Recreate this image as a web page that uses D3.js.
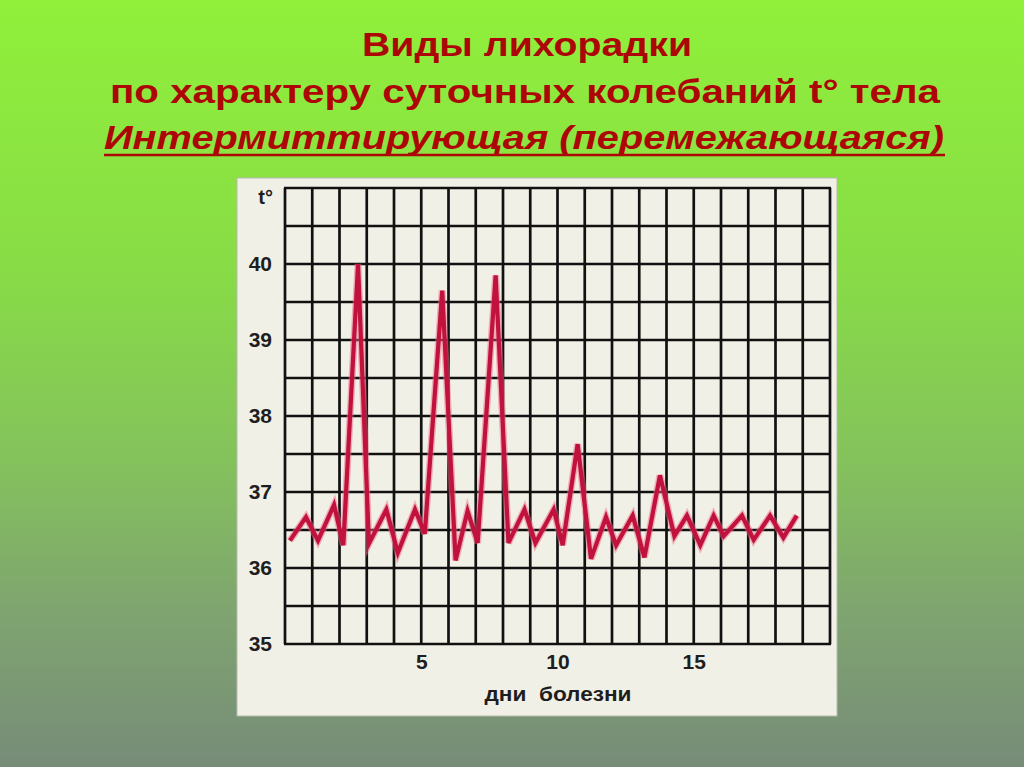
<!DOCTYPE html>
<html>
<head>
<meta charset="utf-8">
<script src="https://cdn.jsdelivr.net/npm/d3@7"></script>
<style>
  html, body { margin: 0; padding: 0; overflow: hidden; }
  svg { display: block; }
</style>
</head>
<body>
<script>
// ---- data ----
const titleLines = ["Виды лихорадки", "по характеру суточных колебаний  t° тела", "Интермиттирующая (перемежающаяся)"];
const yTickValues = [35, 36, 37, 38, 39, 40];
const xTickValues = [5, 10, 15];
const yAxisLabel = "t°";
const xAxisLabel = "дни  болезни";
// day of illness (morning / evening readings)
const days = [0.18, 0.77, 1.21, 1.80, 2.14, 2.68, 3.08, 3.72, 4.14, 4.77,
              5.13, 5.77, 6.26, 6.70, 7.07, 7.73, 8.20, 8.79, 9.19, 9.86,
              10.19, 10.74, 11.23, 11.78, 12.15, 12.76, 13.19, 13.76, 14.29, 14.75,
              15.24, 15.73, 16.10, 16.77, 17.20, 17.80, 18.29, 18.78];
const temps = [36.36, 36.67, 36.36, 36.83, 36.30, 40.00, 36.32, 36.77, 36.20, 36.77,
               36.45, 39.65, 36.10, 36.75, 36.33, 39.85, 36.33, 36.77, 36.33, 36.77,
               36.30, 37.63, 36.12, 36.67, 36.30, 36.69, 36.14, 37.22, 36.42, 36.69,
               36.30, 36.69, 36.42, 36.69, 36.37, 36.69, 36.40, 36.69];
const xDomain = [0, 20];
const yDomain = [35, 41];

// ---- layout ----
const W = 1024, H = 767;
const svg = d3.select("body").append("svg").attr("width", W).attr("height", H);

const defs = svg.append("defs");
const grad = defs.append("linearGradient").attr("id", "bg").attr("x1", 0).attr("y1", 0).attr("x2", 0).attr("y2", 1);
[[0, "#90f03a"], [0.35, "#88dc46"], [0.6, "#84c25c"], [0.8, "#7fa470"], [1, "#778c78"]]
  .forEach(([o, c]) => grad.append("stop").attr("offset", o).attr("stop-color", c));
svg.append("rect").attr("width", W).attr("height", H).attr("fill", "url(#bg)");

// title
const titleFont = "'Liberation Sans Narrow', 'Arial Narrow', 'Liberation Sans', Arial, sans-serif";
const titleSpecs = [
  { y: 56, x0: 362, x1: 692, italic: false },
  { y: 103, x0: 110, x1: 940, italic: false },
  { y: 149, x0: 104, x1: 944, italic: true }
];
titleLines.forEach((t, i) => {
  const s = titleSpecs[i];
  svg.append("text")
    .attr("x", (s.x0 + s.x1) / 2).attr("y", s.y)
    .attr("text-anchor", "middle")
    .attr("font-family", titleFont)
    .attr("font-weight", "bold")
    .attr("font-style", s.italic ? "italic" : "normal")
    .attr("font-size", 34)
    .attr("fill", "#ad0606")
    .attr("textLength", s.x1 - s.x0)
    .attr("lengthAdjust", "spacingAndGlyphs")
    .text(t);
  if (s.italic) {
    svg.append("line").attr("x1", s.x0).attr("x2", s.x1 + 1).attr("y1", s.y + 6).attr("y2", s.y + 6)
      .attr("stroke", "#ad0606").attr("stroke-width", 2.5);
  }
});

// panel
svg.append("rect").attr("x", 237).attr("y", 178).attr("width", 600).attr("height", 538)
  .attr("fill", "#f1f0e6").attr("stroke", "#b8bcb0").attr("stroke-width", 1);

const x = d3.scaleLinear().domain(xDomain).range([285, 830]);
const y = d3.scaleLinear().domain(yDomain).range([644, 188]);

const grid = svg.append("g").attr("stroke", "#111111").attr("stroke-width", 2.7);
grid.selectAll("line.v").data(d3.range(xDomain[0], xDomain[1] + 1)).join("line")
  .attr("x1", d => x(d)).attr("x2", d => x(d)).attr("y1", y(yDomain[1])).attr("y2", y(yDomain[0]));
grid.selectAll("line.h").data(d3.range(yDomain[0], yDomain[1] + 0.01, 0.5)).join("line")
  .attr("y1", d => y(d)).attr("y2", d => y(d)).attr("x1", x(xDomain[0]) - 1).attr("x2", x(xDomain[1]) + 1);

const labelFont = "'Liberation Sans', Arial, Helvetica, sans-serif";
const yAxis = svg.append("g").attr("transform", `translate(${x(0)},0)`)
  .call(d3.axisLeft(y).tickValues(yTickValues).tickSize(0).tickPadding(13).tickFormat(d3.format("d")));
yAxis.select(".domain").remove();
yAxis.selectAll("text").attr("font-family", labelFont).attr("font-weight", "bold")
  .attr("font-size", 21).attr("fill", "#1e1e1e");

const xAxis = svg.append("g").attr("transform", `translate(0,${y(yDomain[0])})`)
  .call(d3.axisBottom(x).tickValues(xTickValues).tickSize(0).tickPadding(10).tickFormat(d3.format("d")));
xAxis.select(".domain").remove();
xAxis.selectAll("text").attr("font-family", labelFont).attr("font-weight", "bold")
  .attr("font-size", 21).attr("fill", "#1e1e1e");

svg.append("text").attr("x", 273).attr("y", 204).attr("text-anchor", "end")
  .attr("font-family", labelFont).attr("font-weight", "bold").attr("font-size", 20)
  .attr("fill", "#1e1e1e").text(yAxisLabel);

svg.append("text").attr("x", 558).attr("y", 701).attr("text-anchor", "middle")
  .attr("font-family", labelFont).attr("font-weight", "bold").attr("font-size", 21)
  .attr("textLength", 147).attr("lengthAdjust", "spacingAndGlyphs")
  .attr("fill", "#1e1e1e").attr("xml:space", "preserve").style("white-space", "pre").text(xAxisLabel);

// temperature curve
const pts = days.map((d, i) => [d, temps[i]]);
const lineGen = d3.line().x(d => x(d[0])).y(d => y(d[1]));
svg.append("path").attr("d", lineGen(pts)).attr("fill", "none")
  .attr("stroke", "#ee6a8a").attr("stroke-opacity", 0.5).attr("stroke-width", 7)
  .attr("stroke-linejoin", "miter").attr("stroke-miterlimit", 4);
svg.append("path").attr("d", lineGen(pts)).attr("fill", "none")
  .attr("stroke", "#c0123c").attr("stroke-width", 4.2)
  .attr("stroke-linejoin", "miter").attr("stroke-miterlimit", 4);
</script>
</body>
</html>
